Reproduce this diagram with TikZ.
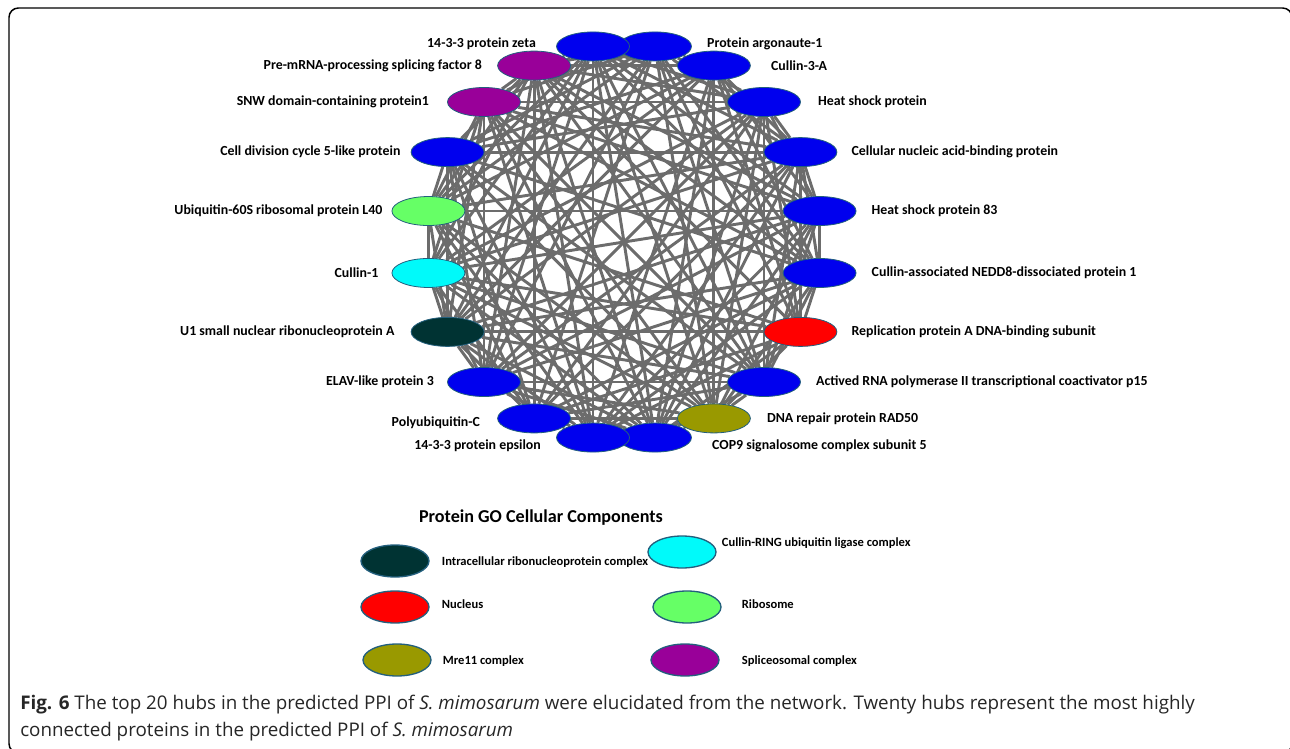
\documentclass[tikz,border=0pt]{standalone}
\usepackage{fontspec}
\setmainfont{Open Sans}
\newfontfamily\hubfont{Carlito}
\usepackage{xcolor}
\usepackage{tikz}
\usetikzlibrary{shapes.geometric,backgrounds,positioning}

\definecolor{hubblue}{RGB}{0,0,238}
\definecolor{hubred}{RGB}{255,0,0}
\definecolor{hubolive}{RGB}{153,153,0}
\definecolor{hubdark}{RGB}{0,51,51}
\definecolor{hubcyan}{RGB}{0,250,250}
\definecolor{hubgreen}{RGB}{102,255,102}
\definecolor{hubpurple}{RGB}{153,0,153}
\definecolor{hubrim}{RGB}{35,95,125}
\definecolor{edgegray}{RGB}{108,108,108}

\tikzset{
  hub/.style={ellipse, draw=hubrim, line width=0.6pt, minimum width=54.75pt, minimum height=21.75pt, inner sep=0pt},
  key/.style={ellipse, draw=hubrim, line width=1pt, minimum width=51pt, minimum height=24pt, inner sep=0pt},
  lbl/.style={inner sep=0.75pt, font=\hubfont\bfseries\fontsize{10.4}{12}\selectfont},
  keylbl/.style={inner sep=0.75pt, font=\hubfont\bfseries\fontsize{9.4}{11}\selectfont},
  ppi/.style={draw=edgegray, line width=2.2pt},
}

\begin{document}
\begin{tikzpicture}[x=0.75pt,y=0.75pt,yscale=-1]
\useasboundingbox (0,0) rectangle (1290,749);
\clip (0,0) rectangle (1290,749);

%Frame
\draw [line width=1.1pt, rounded corners=7pt] (9,8) rectangle (1292,753);

%Hubs (p1 last, it lies on top)
\foreach \i/\col in {2/hubblue,3/hubblue,4/hubblue,5/hubblue,6/hubblue,7/hubblue,8/hubred,9/hubblue,10/hubolive,11/hubblue,12/hubblue,13/hubblue,14/hubblue,15/hubdark,16/hubcyan,17/hubgreen,18/hubblue,19/hubpurple,20/hubpurple,1/hubblue}
  \node [hub, fill=\col] (p\i) at ({624+198*cos(117-18*\i)},{242-198*sin(117-18*\i)}) {};

%Interactions
\begin{pgfonlayer}{background}
\foreach \i in {1,...,19}{
  \pgfmathtruncatemacro\nxt{\i+1}
  \foreach \j in {\nxt,...,20}{
    \pgfmathtruncatemacro\keep{((\j-\i!=10)||(\i==1)||(\i==4)||(\i==6)||(\i==9))&&(mod(7*\i+11*\j,5)!=0)}
    \ifnum\keep=1 \draw [ppi] (p\i) -- (p\j); \fi
  }
}
\end{pgfonlayer}

% Text Nodes, right
\foreach \i/\dx/\dy/\txt in {2/14/-3/Protein argonaute-1, 3/19/0/Cullin-3-A, 4/16/0/Heat shock protein, 5/13/0/Cellular nucleic acid-binding protein, 6/14/0/Heat shock protein 83, 7/14/0/Cullin-associated NEDD8-dissociated protein 1, 8/13/0/Replication protein A DNA-binding subunit, 9/14/0/Actived RNA polymerase II transcriptional coactivator p15, 10/15/0/DNA repair protein RAD50, 11/19/8/COP9 signalosome complex subunit 5}
  \node [lbl, anchor=west] (t\i) at ([shift={(\dx,\dy)}]p\i.east) {\txt};
% Text Nodes, left
\foreach \i/\dx/\dy/\txt in {1/19/-3/14-3-3 protein zeta, 20/14/0/Pre-mRNA-processing splicing factor 8, 19/17/0/SNW domain-containing protein1, 18/9/0/Cell division cycle 5-like protein, 17/8/0/Ubiquitin-60S ribosomal protein L40, 16/12/0/Cullin-1, 15/15/0/U1 small nuclear ribonucleoprotein A, 14/12/0/ELAV-like protein 3, 13/16/4/Polyubiquitin-C, 12/14/8/14-3-3 protein epsilon}
  \node [lbl, anchor=east] (t\i) at ([shift={(-\dx,\dy)}]p\i.west) {\txt};

%Legend
\node [font=\hubfont\bfseries\fontsize{13.6}{16}\selectfont] (keytitle) at (541,518) {Protein GO Cellular Components};
\node [key, fill=hubdark] (k1) at (395,561) {};
\node [key, fill=hubred] (k2) at (395,607) {};
\node [key, fill=hubolive] (k3) at (397,660) {};
\node [key, fill=hubcyan] (k4) at (682,552) {};
\node [key, fill=hubgreen] (k5) at (687,607) {};
\node [key, fill=hubpurple] (k6) at (685,660) {};
\foreach \k/\dx/\dy/\txt in {1/11/1/Intracellular ribonucleoprotein complex, 2/11/-3/Nucleus, 3/10/1/Mre11 complex, 4/4/-9/Cullin-RING ubiquitin ligase complex, 5/19/-3/Ribosome, 6/21/1/Spliceosomal complex}
  \node [keylbl, anchor=west] (kt\k) at ([shift={(\dx,\dy)}]k\k.east) {\txt};

%Caption
\node [anchor=base west, inner sep=0pt, font=\fontsize{14.1}{20}\selectfont, text=black!85] (cap1) at (20,709) {\textbf{Fig. 6} The top 20 hubs in the predicted PPI of \textit{S. mimosarum} were elucidated from the network. Twenty hubs represent the most highly};
\node [anchor=base west, inner sep=0pt, font=\fontsize{14.1}{20}\selectfont, text=black!85] (cap2) at (20,736) {connected proteins in the predicted PPI of \textit{S. mimosarum}};
\end{tikzpicture}
\end{document}
